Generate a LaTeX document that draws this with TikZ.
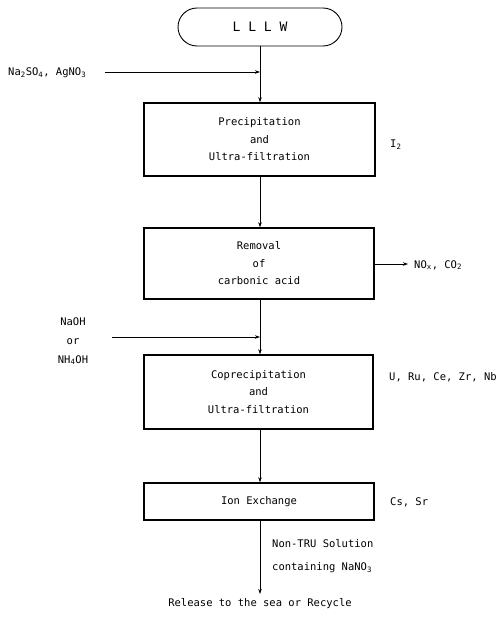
\documentclass[tikz,border=0pt]{standalone}
\usepackage{fontspec}
\setmainfont{DejaVu Sans Mono}
\usetikzlibrary{arrows.meta}
\begin{document}
\begin{tikzpicture}[x=1pt,y=-1pt,
  every node/.style={font=\fontsize{10.5}{17.5}\selectfont, inner sep=0pt},
  procbox/.style={draw, line width=1.4pt, align=center},
  conn/.style={line width=0.7pt, -{Stealth[length=5pt,width=3.5pt]}}
]
\useasboundingbox (0,0) rectangle (497,621);
\node[draw, line width=0.9pt, rounded corners=19pt, minimum width=164pt, minimum height=38pt, font=\fontsize{13}{15}\selectfont] (lllw) at (260,27) {L L L W};
\node[procbox, minimum width=231pt, minimum height=73pt] (prec) at (259.5,139.5) {Precipitation\\and\\Ultra-filtration};
\node[procbox, minimum width=230pt, minimum height=71pt] (remo) at (259,263.5) {Removal\\of\\carbonic acid};
\node[procbox, minimum width=229pt, minimum height=74pt] (copr) at (258.5,392) {Coprecipitation\\and\\Ultra-filtration};
\node[procbox, minimum width=230pt, minimum height=37pt] (ion) at (259,501.5) {Ion Exchange};
\node (rel) at (260,604) {Release to the sea or Recycle};

\node[anchor=west, font=\fontsize{10.5}{12}\selectfont] (na) at (8,73) {Na\textsubscript{2}SO\textsubscript{4}, AgNO\textsubscript{3}};
\node[align=center, font=\fontsize{10.5}{19}\selectfont] (naoh) at (73,341) {NaOH\\or\\NH\textsubscript{4}OH};
\node[anchor=west] (i2) at (390,145) {I\textsubscript{2}};
\node[anchor=west] (nox) at (414,265) {NO\textsubscript{x}, CO\textsubscript{2}};
\node[anchor=west] (urc) at (389,377) {U, Ru, Ce, Zr, Nb};
\node[anchor=west] (cssr) at (390,502) {Cs, Sr};
\node[anchor=west, align=left, font=\fontsize{10.5}{23}\selectfont] (ntru) at (272,556) {Non-TRU Solution\\containing NaNO\textsubscript{3}};

\coordinate (j1) at (260,72);
\coordinate (j2) at (260,337);
\coordinate (noxend) at (408,264);
\coordinate (relend) at (260,594);
\coordinate (naend) at (105,72);
\coordinate (naohend) at (112,337);

\draw[conn] (lllw.south) -- (prec.north -| lllw.south);
\draw[conn] (naend) -- (j1);
\draw[conn] (prec.south -| j1) -- (remo.north -| j1);
\draw[conn] (remo.south -| j1) -- (copr.north -| j1);
\draw[conn] (naohend) -- (j2);
\draw[conn] (copr.south -| j1) -- (ion.north -| j1);
\draw[conn] (ion.south -| j1) -- (relend);
\draw[conn] (remo.east |- noxend) -- (noxend);
\end{tikzpicture}
\end{document}
